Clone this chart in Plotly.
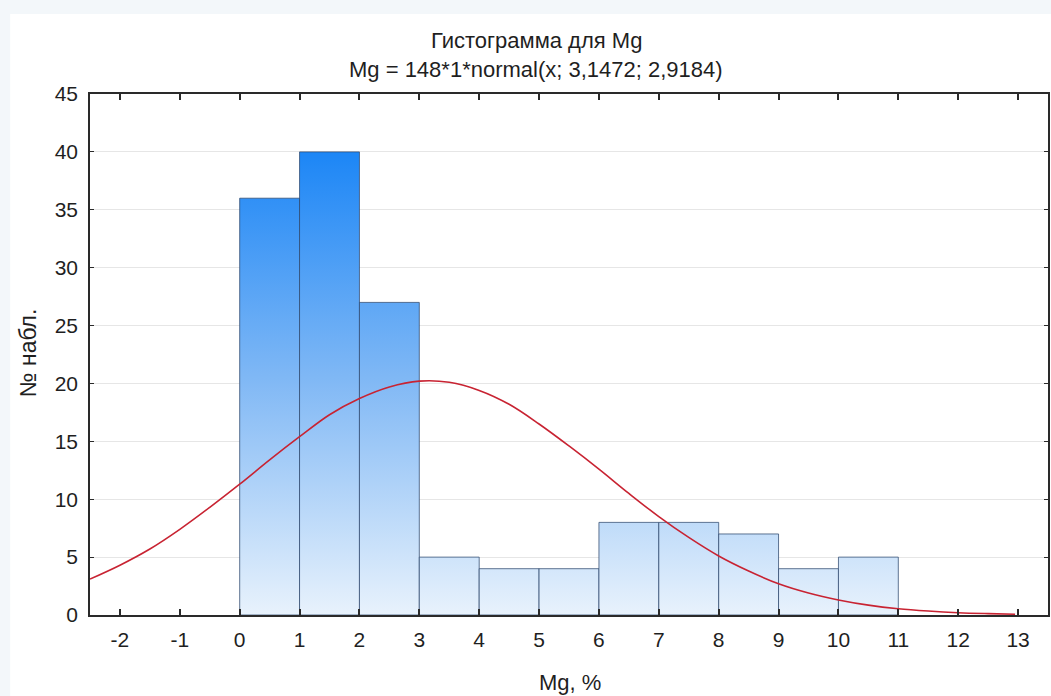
import plotly.graph_objects as go

# Histogram data (bins of width 1)
bin_left = [0, 1, 2, 3, 4, 5, 6, 7, 8, 9, 10]
bin_right = [1, 2, 3, 4, 5, 6, 7, 8, 9, 10, 11]
counts = [36, 40, 27, 5, 4, 4, 8, 8, 7, 4, 5]

# Fitted normal curve values
curve_x = [-2.5, -2, -1.5, -1, -0.5, 0, 0.5, 1, 1.5, 2, 2.5, 3, 3.5, 4, 4.5, 5,
           5.5, 6, 6.5, 7, 7.5, 8, 8.5, 9, 9.5, 10, 10.5, 11, 11.5, 12, 12.5, 12.95]
curve_y = [3.1, 4.3, 5.7, 7.4, 9.3, 11.3, 13.4, 15.4, 17.3, 18.7, 19.7, 20.2, 20.1,
           19.4, 18.2, 16.5, 14.6, 12.6, 10.5, 8.5, 6.7, 5.1, 3.8, 2.7, 1.9, 1.3,
           0.85, 0.54, 0.34, 0.2, 0.12, 0.07]

x_ticks = [-2, -1, 0, 1, 2, 3, 4, 5, 6, 7, 8, 9, 10, 11, 12, 13]
y_ticks = [0, 5, 10, 15, 20, 25, 30, 35, 40, 45]

FONT = "Liberation Sans, Arial, sans-serif"
TXT = "#1f1f1f"

fig = go.Figure()

grad = dict(type="vertical",
            colorscale=[[0, "rgb(232,242,252)"], [0.5, "rgb(130,185,245)"], [1, "rgb(28,134,246)"]],
            start=0, stop=40)

for l, r, c in zip(bin_left, bin_right, counts):
    fig.add_trace(go.Scatter(
        x=[l, l, r, r, l], y=[0, c, c, 0, 0],
        mode="lines", fill="toself", fillgradient=grad,
        line=dict(color="rgba(45,72,110,0.75)", width=1),
        hoverinfo="skip", showlegend=False))

fig.add_trace(go.Scatter(
    x=curve_x, y=curve_y, mode="lines",
    line=dict(color="rgb(200,35,50)", width=1.6, shape="spline"),
    showlegend=False))

plot_l, plot_r, plot_t, plot_b = 90, 1050, 94, 615
W, H = 1051, 696
pw = plot_r - plot_l
ph = plot_b - plot_t

def px(x):
    return (x - plot_l) / pw

def py(y):
    return (plot_b - y) / ph

fig.update_layout(
    width=W, height=H,
    margin=dict(l=plot_l, r=W - plot_r, t=plot_t, b=H - plot_b, pad=0),
    paper_bgcolor="#f3f7fa",
    plot_bgcolor="white",
    font=dict(family=FONT, size=21, color=TXT),
    showlegend=False,
    shapes=[dict(type="rect", xref="paper", yref="paper", layer="below",
                 x0=px(10), x1=px(1060), y0=py(700), y1=py(14),
                 fillcolor="white", line=dict(width=0))],
    annotations=[
        dict(text="Гистограмма для Mg", xref="paper", yref="paper",
             x=px(537), y=py(40), showarrow=False, xanchor="center", yanchor="middle",
             font=dict(size=22, family=FONT, color=TXT)),
        dict(text="Mg = 148*1*normal(x; 3,1472; 2,9184)", xref="paper", yref="paper",
             x=px(537), y=py(69), showarrow=False, xanchor="center", yanchor="middle",
             font=dict(size=22, family=FONT, color=TXT)),
        dict(text="Mg, %", xref="paper", yref="paper",
             x=px(571), y=py(682), showarrow=False, xanchor="center", yanchor="middle",
             font=dict(size=22, family=FONT, color=TXT)),
        dict(text="№ набл.", xref="paper", yref="paper", textangle=-90,
             x=px(28), y=py(353), showarrow=False, xanchor="center", yanchor="middle",
             font=dict(size=23, family=FONT, color=TXT)),
    ],
)

fig.update_xaxes(
    range=[-2.5, 13.5], tickvals=x_ticks, ticktext=[str(v) for v in x_ticks],
    showgrid=False, zeroline=False,
    showline=True, linecolor="#2a2a2a", linewidth=2, mirror="ticks",
    ticks="inside", ticklen=6, tickcolor="#2a2a2a", tickwidth=1.5,
    tickfont=dict(size=21, family=FONT, color=TXT), ticklabelstandoff=5)

fig.update_yaxes(
    range=[0, 45], tickvals=y_ticks, ticktext=[str(v) for v in y_ticks],
    showgrid=True, gridcolor="#e6e6e6", gridwidth=1, zeroline=False,
    showline=True, linecolor="#2a2a2a", linewidth=1.5, mirror="ticks",
    ticks="inside", ticklen=4, tickcolor="#2a2a2a", tickwidth=1,
    tickfont=dict(size=21, family=FONT, color=TXT), ticklabelstandoff=6)

fig.write_html("out.html")
